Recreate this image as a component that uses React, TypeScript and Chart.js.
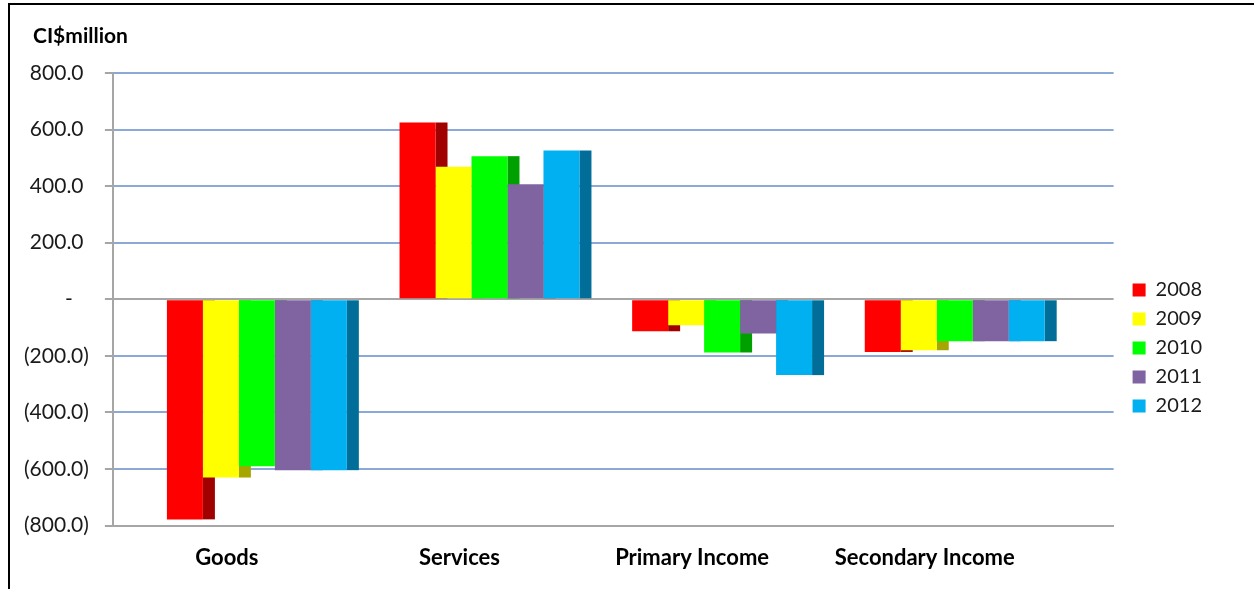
import React, { useEffect, useRef } from 'react';
import { Chart, registerables } from 'chart.js';

Chart.register(...registerables);

// ---- data ----
const categories = ['Goods', 'Services', 'Primary Income', 'Secondary Income'];
const years = ['2008', '2009', '2010', '2011', '2012'];
const values2008 = [-778, 625, -113, -186];
const values2009 = [-630, 469, -92, -180];
const values2010 = [-590, 506, -188, -148];
const values2011 = [-604, 407, -121, -148];
const values2012 = [-604, 526, -268, -148];
const seriesValues = [values2008, values2009, values2010, values2011, values2012];
const yMin = -800;
const yMax = 800;
const yStep = 200;
const unitLabel = 'CI$million';

// ---- styles ----
const frontColors = ['#FF0000', '#FFFF00', '#00FF00', '#8064A2', '#00B0F0'];
const sideColors = ['#A00000', '#A6A600', '#00A000', '#5C4878', '#006E98'];
const FONT = "Lato, 'Open Sans', sans-serif";
const SIDE_DEPTH = 12;

const formatTick = (v: number) => {
  if (v === 0) return '-   ';
  if (v < 0) return '(' + Math.abs(v).toFixed(1) + ')';
  return v.toFixed(1) + ' ';
};

const sidePlugin = {
  id: 'side3d',
  beforeDatasetsDraw(chart: any) {
    const ctx = chart.ctx;
    ctx.save();
    chart.data.datasets.forEach((_ds: any, di: number) => {
      const meta = chart.getDatasetMeta(di);
      if (meta.hidden) return;
      meta.data.forEach((bar: any) => {
        const p = bar.getProps(['x', 'y', 'base', 'width'], true);
        ctx.fillStyle = sideColors[di];
        ctx.fillRect(p.x + p.width / 2, Math.min(p.y, p.base), SIDE_DEPTH, Math.abs(p.base - p.y));
      });
    });
    ctx.restore();
  },
};

export default function App() {
  const canvasRef = useRef<HTMLCanvasElement | null>(null);

  useEffect(() => {
    if (!canvasRef.current) return;
    Chart.defaults.font.family = FONT;
    const chart = new Chart(canvasRef.current, {
      type: 'bar',
      data: {
        datasets: years.map((yr, di) => ({
          label: yr,
          data: seriesValues[di].map((v, i) => ({ x: i, y: v })),
          backgroundColor: frontColors[di],
          borderWidth: 0,
          categoryPercentage: 0.7735,
          barPercentage: 1,
        })),
      },
      options: {
        animation: false,
        responsive: true,
        maintainAspectRatio: false,
        layout: { padding: { top: 68, bottom: -1, left: -2, right: 42 } },
        plugins: {
          tooltip: { enabled: false },
          title: { display: false },
          legend: {
            position: 'right',
            title: { display: true, text: '', font: { size: 20 }, padding: { top: 9, bottom: 0 } },
            labels: {
              boxWidth: 13,
              boxHeight: 13,
              padding: 9,
              color: '#1A1A1A',
              font: { family: FONT, size: 20 },
            },
          },
        },
        scales: {
          x: {
            type: 'linear',
            min: -0.619,
            max: 3.683,
            offset: false,
            grid: { display: false, offset: false, drawTicks: false },
            border: { display: true, color: '#A6A6A6', width: 2 },
            afterBuildTicks: (s: any) => {
              s.ticks = categories.map((_c, i) => ({ value: i }));
            },
            ticks: {
              autoSkip: false,
              maxRotation: 0,
              labelOffset: -30,
              padding: 19,
              color: '#000000',
              font: { family: FONT, size: 22, weight: 'bold' },
              callback: (_v: any, i: number) => categories[i],
            },
          },
          y: {
            min: yMin,
            max: yMax,
            ticks: {
              stepSize: yStep,
              padding: 16,
              color: '#1A1A1A',
              font: { family: FONT, size: 21 },
              callback: (v: any) => formatTick(Number(v)),
            },
            grid: {
              color: (c: any) => (c.tick && (c.tick.value === 0 || c.tick.value === yMin) ? '#A6A6A6' : '#8BA8D6'),
              lineWidth: 2,
              tickColor: '#A6A6A6',
              tickLength: 8,
              drawTicks: true,
            },
            border: { display: true, color: '#A6A6A6', width: 2 },
          },
          y2: {
            position: 'right',
            display: true,
            grid: { display: false, drawTicks: false },
            border: { display: false },
            ticks: { display: false },
            afterFit: (s: any) => {
              s.width = 10;
            },
          },
        },
      },
      plugins: [sidePlugin],
    } as any);
    return () => chart.destroy();
  }, []);

  return (
    <div
      style={{
        position: 'fixed',
        left: 8,
        top: 3,
        width: 1246,
        height: 586,
        borderTop: '2px solid #000',
        borderLeft: '2px solid #000',
        boxSizing: 'border-box',
        background: '#fff',
      }}
    >
      <div
        style={{
          position: 'absolute',
          left: 23,
          top: 20,
          lineHeight: '20px',
          fontFamily: FONT,
          fontWeight: 'bold',
          fontSize: 21,
          color: '#000',
          zIndex: 1,
        }}
      >
        {unitLabel}
      </div>
      <div style={{ position: 'absolute', left: 0, top: 0, width: 1244, height: 584 }}>
        <canvas ref={canvasRef} />
      </div>
    </div>
  );
}
